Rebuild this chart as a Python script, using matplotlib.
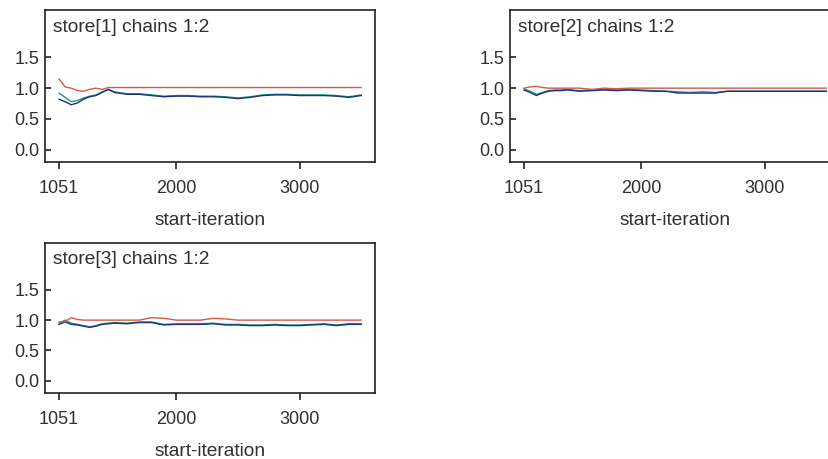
import matplotlib
matplotlib.use("Agg")
import matplotlib.pyplot as plt

plt.rcParams["font.family"] = ["Liberation Sans", "DejaVu Sans"]

# start iterations at which the Brooks-Gelman-Rubin statistics were computed
iterations = [1051, 1100, 1150, 1200, 1250, 1300, 1350, 1400, 1450, 1500,
              1600, 1700, 1800, 1900, 2000, 2100, 2200, 2300, 2400, 2500,
              2600, 2700, 2800, 2900, 3000, 3100, 3200, 3300, 3400, 3500]

# store[1]
pooled_1 = [0.92, 0.85, 0.78, 0.80, 0.84, 0.87, 0.89, 0.94, 0.98, 0.94,
            0.91, 0.91, 0.89, 0.87, 0.88, 0.88, 0.87, 0.87, 0.86, 0.84,
            0.86, 0.89, 0.90, 0.90, 0.89, 0.89, 0.89, 0.88, 0.86, 0.89]
within_1 = [0.82, 0.78, 0.73, 0.76, 0.82, 0.86, 0.88, 0.93, 0.98, 0.93,
            0.90, 0.90, 0.88, 0.86, 0.87, 0.87, 0.86, 0.86, 0.85, 0.83,
            0.85, 0.88, 0.89, 0.89, 0.88, 0.88, 0.88, 0.87, 0.85, 0.88]
ratio_1 = [1.15, 1.02, 1.00, 0.96, 0.95, 0.98, 1.00, 0.98, 1.01, 1.01,
           1.01, 1.01, 1.01, 1.01, 1.01, 1.01, 1.01, 1.01, 1.01, 1.01,
           1.01, 1.01, 1.01, 1.01, 1.01, 1.01, 1.01, 1.01, 1.01, 1.01]

# store[2]
pooled_2 = [0.99, 0.95, 0.90, 0.93, 0.96, 0.97, 0.97, 0.98, 0.97, 0.96,
            0.97, 0.98, 0.97, 0.98, 0.97, 0.96, 0.95, 0.94, 0.93, 0.94,
            0.93, 0.95, 0.95, 0.95, 0.95, 0.95, 0.95, 0.95, 0.95, 0.95]
within_2 = [0.97, 0.93, 0.88, 0.92, 0.95, 0.96, 0.96, 0.97, 0.96, 0.95,
            0.96, 0.97, 0.96, 0.97, 0.96, 0.95, 0.95, 0.92, 0.92, 0.92,
            0.92, 0.95, 0.95, 0.95, 0.95, 0.95, 0.95, 0.95, 0.95, 0.95]
ratio_2 = [1.00, 1.02, 1.03, 1.01, 1.00, 1.00, 1.00, 1.00, 1.00, 1.00,
           0.98, 1.00, 0.99, 1.00, 1.00, 1.00, 1.00, 1.00, 1.00, 1.00,
           1.00, 1.00, 1.00, 1.00, 1.00, 1.00, 1.00, 1.00, 1.00, 1.00]

# store[3]
pooled_3 = [0.95, 1.00, 0.95, 0.93, 0.91, 0.89, 0.91, 0.94, 0.95, 0.96,
            0.95, 0.97, 0.97, 0.93, 0.94, 0.94, 0.94, 0.95, 0.93, 0.93,
            0.92, 0.92, 0.93, 0.92, 0.92, 0.93, 0.94, 0.92, 0.94, 0.94]
within_3 = [0.93, 0.97, 0.93, 0.92, 0.90, 0.88, 0.90, 0.93, 0.94, 0.95,
            0.94, 0.96, 0.96, 0.92, 0.93, 0.93, 0.93, 0.94, 0.92, 0.92,
            0.91, 0.91, 0.92, 0.91, 0.91, 0.92, 0.93, 0.91, 0.93, 0.93]
ratio_3 = [0.97, 0.98, 1.04, 1.01, 1.00, 1.00, 1.00, 1.00, 1.00, 1.00,
           1.00, 1.00, 1.04, 1.03, 1.00, 1.00, 1.00, 1.03, 1.02, 1.00,
           1.00, 1.00, 1.00, 1.00, 1.00, 1.00, 1.00, 1.00, 1.00, 1.00]

titles = ["store[1] chains 1:2", "store[2] chains 1:2", "store[3] chains 1:2"]
x_ticks = [1051, 2000, 3000]
y_ticks = [0.0, 0.5, 1.0, 1.5]
y_tick_labels = ["0.0", "0.5", "1.0", "1.5"]
x_label = "start-iteration"

series = [(pooled_1, within_1, ratio_1),
          (pooled_2, within_2, ratio_2),
          (pooled_3, within_3, ratio_3)]

W, H = 829, 459
fig = plt.figure(figsize=(W / 100, H / 100), dpi=100)
fig.patch.set_facecolor("white")

# axes boxes in pixels: left, top, right, bottom
boxes = [(45, 10, 375, 162), (510, 10, 840, 162), (45, 243, 375, 393)]

GREEN = "#1d9a78"
BLUE = "#1e3282"
RED = "#d4584c"
TEXT = "#303030"
FS_TICK = 13
FS_TEXT = 13.8

for (l, t, r, b), title, (pooled, within, ratio) in zip(boxes, titles, series):
    ax = fig.add_axes([l / W, 1 - b / H, (r - l) / W, (b - t) / H])
    ax.plot(iterations, pooled, color=GREEN, lw=1.0)
    ax.plot(iterations, within, color=BLUE, lw=1.0)
    ax.plot(iterations, ratio, color=RED, lw=1.0)
    ax.set_xlim(937, 3612)
    ax.set_ylim(-0.2, 2.27)
    ax.set_xticks(x_ticks)
    ax.set_xticklabels([str(v) for v in x_ticks])
    ax.set_yticks(y_ticks)
    ax.set_yticklabels(y_tick_labels)
    for s in ax.spines.values():
        s.set_color("#222222")
        s.set_linewidth(1.2)
    ax.tick_params(axis="x", direction="out", length=5, width=1.2,
                   color="#222222", labelsize=FS_TICK, labelcolor=TEXT, pad=8)
    ax.tick_params(axis="y", direction="in", length=4, width=1.2,
                   color="#222222", labelsize=FS_TICK, labelcolor=TEXT, pad=4)
    ax.set_xlabel(x_label, fontsize=FS_TEXT, color=TEXT, labelpad=11)
    ax.text(8 / (r - l), 1 - 17 / (b - t), title, transform=ax.transAxes,
            fontsize=FS_TEXT, color=TEXT, ha="left", va="center")

fig.savefig("out.png", dpi=100)
